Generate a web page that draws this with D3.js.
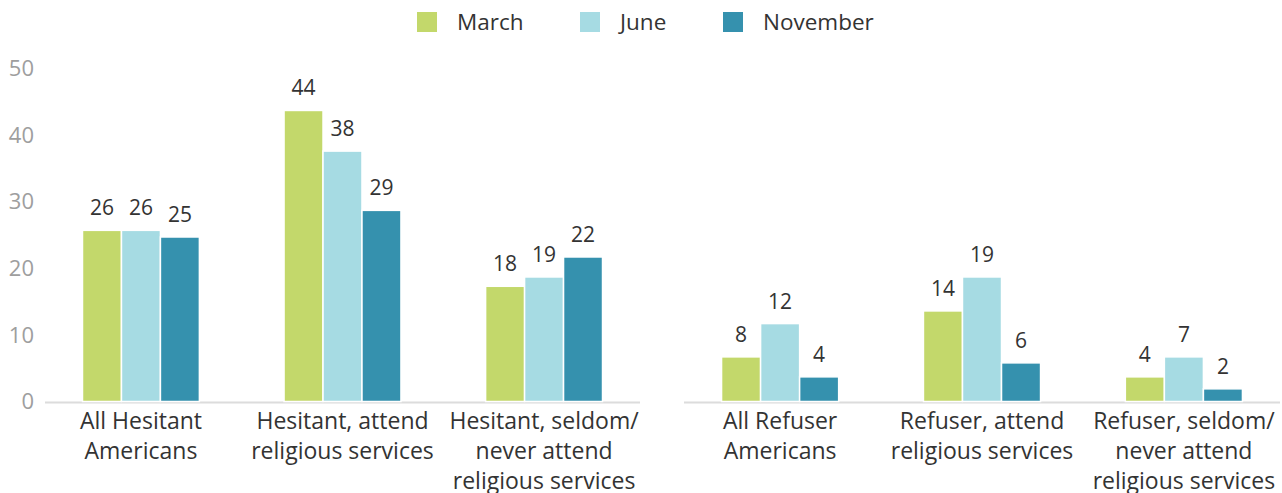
<!DOCTYPE html>
<html>
<head>
<meta charset="utf-8">
<script src="https://cdn.jsdelivr.net/npm/d3@7"></script>
<style>
  body { margin: 0; background: #fff; }
  text { font-family: "Open Sans", sans-serif; }
</style>
</head>
<body>
<script>
// data
var categories = [
  ["All Hesitant", "Americans"],
  ["Hesitant, attend", "religious services"],
  ["Hesitant, seldom/", "never attend", "religious services"],
  ["All Refuser", "Americans"],
  ["Refuser, attend", "religious services"],
  ["Refuser, seldom/", "never attend", "religious services"]
];
var seriesNames = ["March", "June", "November"];
var marchValues = [25.7, 43.7, 17.3, 6.7, 13.6, 3.7];
var juneValues = [25.7, 37.6, 18.7, 11.7, 18.7, 6.7];
var novemberValues = [24.7, 28.7, 21.7, 3.7, 5.8, 1.9];
var marchLabels = [26, 44, 18, 8, 14, 4];
var juneLabels = [26, 38, 19, 12, 19, 7];
var novemberLabels = [25, 29, 22, 4, 6, 2];
var yTicks = [0, 10, 20, 30, 40, 50];

var width = 1282, height = 493;
var colors = ["#c3d86b", "#a6dbe3", "#3591ae"];

var svg = d3.select("body").append("svg")
  .attr("width", width)
  .attr("height", height);

var y = d3.scaleLinear().domain([0, 50]).range([401.5, 68.5]);

var rows = categories.map(function(c, i) {
  return {
    idx: i,
    lines: c,
    values: [marchValues[i], juneValues[i], novemberValues[i]],
    labels: [marchLabels[i], juneLabels[i], novemberLabels[i]]
  };
});

/* y axis labels */
svg.append("g").selectAll("text")
  .data(yTicks)
  .enter().append("text")
    .attr("x", 34)
    .attr("y", function(d) { return y(d); })
    .attr("dy", "0.35em")
    .attr("text-anchor", "end")
    .attr("fill", "#9e9e9e")
    .style("font-size", "22px")
    .text(function(d) { return d; });

/* two panels */
var panels = [
  { range: [45, 640], rows: rows.slice(0, 3) },
  { range: [684, 1280], rows: rows.slice(3) }
];

panels.forEach(function(p) {
  var x = d3.scaleBand()
    .domain(p.rows.map(function(d) { return d.idx; }))
    .range(p.range)
    .paddingInner(0.42)
    .paddingOuter(0.186);

  var xs = d3.scaleBand().domain([0, 1, 2]).range([0, x.bandwidth()]);

  var g = svg.append("g");

  g.append("line")
    .attr("x1", p.range[0]).attr("x2", p.range[1])
    .attr("y1", y(0) + 1).attr("y2", y(0) + 1)
    .attr("stroke", "#dcdcdc")
    .attr("stroke-width", 2);

  var grp = g.selectAll("g.grp")
    .data(p.rows)
    .enter().append("g")
      .attr("class", "grp")
      .attr("transform", function(d) { return "translate(" + x(d.idx) + ",0)"; });

  grp.selectAll("rect")
    .data(function(d) { return d.values; })
    .enter().append("rect")
      .attr("x", function(d, i) { return xs(i); })
      .attr("width", xs.bandwidth())
      .attr("y", function(d) { return y(d); })
      .attr("height", function(d) { return y(0) - y(d); })
      .attr("fill", function(d, i) { return colors[i]; })
      .attr("stroke", "#fff")
      .attr("stroke-width", 1.5);

  grp.selectAll("text.val")
    .data(function(d) { return d.values.map(function(v, i) { return { v: v, l: d.labels[i] }; }); })
    .enter().append("text")
      .attr("class", "val")
      .attr("x", function(d, i) { return xs(i) + xs.bandwidth() / 2; })
      .attr("y", function(d) { return y(d.v) - 15; })
      .attr("text-anchor", "middle")
      .attr("fill", "#333")
      .style("font-size", "21px")
      .text(function(d) { return d.l; });

  grp.selectAll("text.cat")
    .data(function(d) { return d.lines; })
    .enter().append("text")
      .attr("class", "cat")
      .attr("x", x.bandwidth() / 2)
      .attr("y", function(d, i) { return 429 + i * 30; })
      .attr("text-anchor", "middle")
      .attr("fill", "#333")
      .style("font-size", "23px")
      .text(function(d) { return d; });
});

/* legend */
var legendX = [417, 580, 723];
var legend = svg.append("g").selectAll("g")
  .data(seriesNames)
  .enter().append("g")
    .attr("transform", function(d, i) { return "translate(" + legendX[i] + ",12)"; });

legend.append("rect")
  .attr("width", 20).attr("height", 20)
  .attr("fill", function(d, i) { return colors[i]; });

legend.append("text")
  .attr("x", 40)
  .attr("y", 10)
  .attr("dy", "0.35em")
  .attr("fill", "#333")
  .style("font-size", "22.5px")
  .text(function(d) { return d; });
</script>
</body>
</html>
